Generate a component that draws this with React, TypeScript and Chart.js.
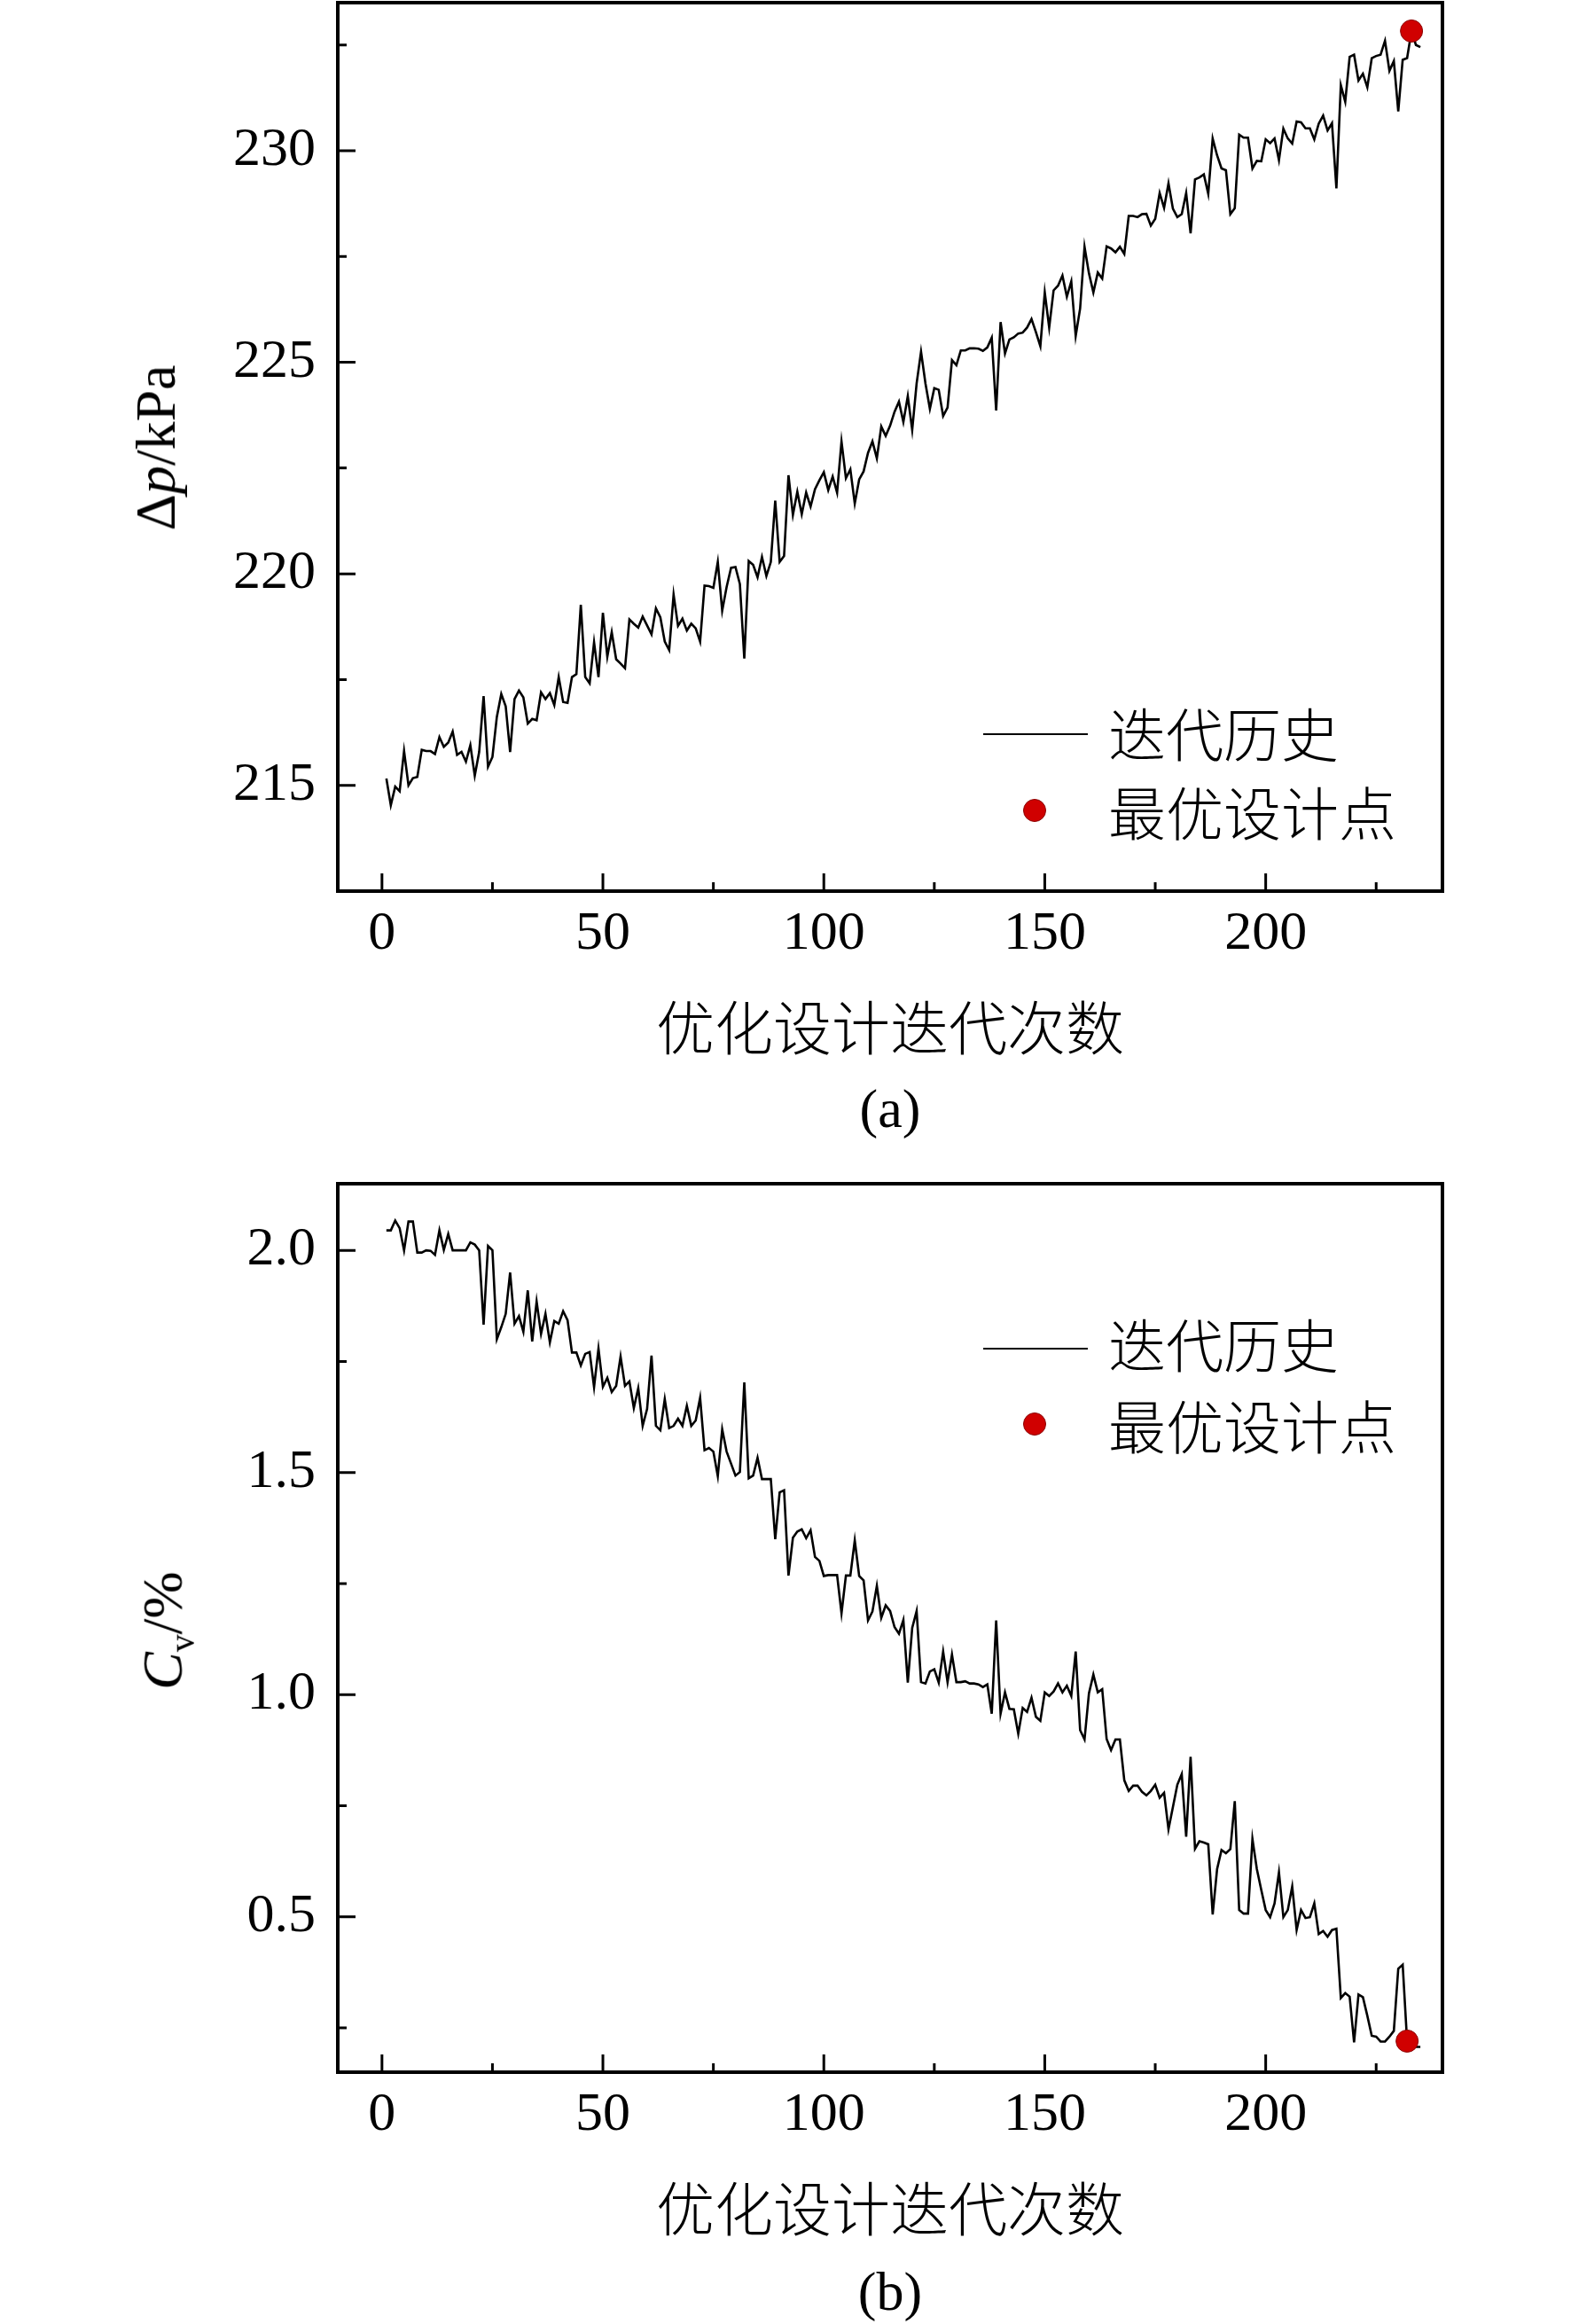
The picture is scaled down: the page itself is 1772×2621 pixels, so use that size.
import React, { useEffect, useRef } from 'react';
import { Chart, LineController, LineElement, PointElement, LinearScale } from 'chart.js';

Chart.register(LineController, LineElement, PointElement, LinearScale);

// ============================================
// DATA (one value per iteration)
// ============================================
const pressureDrop: number[] = [
  215.16, 214.53, 214.97, 214.86, 215.81, 215.0, 215.17, 215.2, 215.84, 215.81,
  215.81, 215.74, 216.14, 215.91, 216.01, 216.27, 215.72, 215.79, 215.56, 215.95,
  215.23, 215.79, 217.11, 215.44, 215.67, 216.62, 217.16, 216.87, 215.79, 217.04,
  217.24, 217.08, 216.46, 216.57, 216.54, 217.2, 217.04, 217.18, 216.9, 217.56,
  216.97, 216.95, 217.56, 217.63, 219.27, 217.56, 217.41, 218.38, 217.56, 219.08,
  218.04, 218.62, 217.98, 217.88, 217.77, 218.92, 218.82, 218.73, 218.99, 218.78,
  218.57, 219.18, 218.97, 218.4, 218.2, 219.51, 218.77, 218.94, 218.66, 218.82,
  218.71, 218.4, 219.72, 219.71, 219.67, 220.28, 219.13, 219.69, 220.14, 220.16,
  219.76, 218.0, 220.3, 220.21, 219.92, 220.4, 219.95, 220.28, 221.73, 220.28,
  220.42, 222.33, 221.39, 221.94, 221.41, 221.92, 221.59, 222.0, 222.21, 222.4,
  221.98, 222.3, 221.92, 223.13, 222.26, 222.47, 221.66, 222.23, 222.42, 222.86,
  223.13, 222.73, 223.48, 223.26, 223.5, 223.83, 224.07, 223.59, 224.2, 223.4,
  224.5, 225.25, 224.5, 223.9, 224.39, 224.35, 223.73, 223.93, 225.05, 224.93,
  225.28, 225.28, 225.33, 225.33, 225.32, 225.27, 225.35, 225.58, 223.86, 225.95,
  225.21, 225.54, 225.59, 225.68, 225.7, 225.82, 226.02, 225.71, 225.38, 226.65,
  225.82, 226.7, 226.81, 227.05, 226.55, 226.91, 225.62, 226.27, 227.73, 227.1,
  226.65, 227.12, 226.98, 227.74, 227.69, 227.6, 227.73, 227.56, 228.46, 228.46,
  228.43, 228.5, 228.51, 228.23, 228.39, 229.0, 228.65, 229.23, 228.63, 228.43,
  228.5, 229.0, 228.05, 229.32, 229.37, 229.44, 228.98, 230.29, 229.89, 229.58,
  229.54, 228.5, 228.64, 230.38, 230.31, 230.31, 229.58, 229.76, 229.75, 230.27,
  230.18, 230.29, 229.78, 230.52, 230.29, 230.17, 230.69, 230.67, 230.53, 230.53,
  230.27, 230.64, 230.83, 230.48, 230.65, 229.11, 231.55, 231.16, 232.22, 232.27,
  231.66, 231.82, 231.5, 232.19, 232.24, 232.27, 232.6, 231.89, 232.12, 230.93,
  232.15, 232.19, 232.83, 232.5, 232.45,
];

const cvHistory: number[] = [
  2.045, 2.045, 2.067, 2.05, 2.0, 2.065, 2.065, 1.995, 1.995, 2.0,
  1.999, 1.99, 2.045, 2.001, 2.037, 2.0, 2.0, 2.0, 2.0, 2.018,
  2.013, 2.0, 1.833, 2.01, 2.0, 1.8, 1.827, 1.857, 1.95, 1.835,
  1.852, 1.817, 1.91, 1.795, 1.885, 1.812, 1.857, 1.793, 1.841, 1.835,
  1.863, 1.843, 1.77, 1.77, 1.741, 1.767, 1.771, 1.692, 1.779, 1.693,
  1.713, 1.681, 1.695, 1.761, 1.695, 1.705, 1.645, 1.69, 1.605, 1.643,
  1.763, 1.605, 1.595, 1.665, 1.6, 1.605, 1.621, 1.605, 1.65, 1.605,
  1.617, 1.668, 1.55, 1.555, 1.547, 1.492, 1.597, 1.547, 1.52, 1.493,
  1.501, 1.703, 1.487, 1.493, 1.533, 1.485, 1.485, 1.485, 1.35, 1.455,
  1.46, 1.268, 1.353, 1.367, 1.372, 1.352, 1.37, 1.31, 1.301, 1.267,
  1.269, 1.269, 1.269, 1.183, 1.268, 1.268, 1.347, 1.267, 1.257, 1.167,
  1.187, 1.245, 1.173, 1.201, 1.188, 1.152, 1.137, 1.168, 1.027, 1.15,
  1.188, 1.028, 1.025, 1.052, 1.057, 1.027, 1.097, 1.028, 1.09, 1.028,
  1.028, 1.03, 1.025, 1.025, 1.023, 1.017, 1.023, 0.957, 1.167, 0.957,
  1.005, 0.968, 0.967, 0.912, 0.97, 0.961, 0.993, 0.95, 0.941, 1.005,
  0.997, 1.007, 1.025, 1.005, 1.02, 0.997, 1.097, 0.92, 0.899, 1.003,
  1.045, 1.005, 1.012, 0.9, 0.875, 0.899, 0.899, 0.807, 0.783, 0.795,
  0.795, 0.781, 0.773, 0.783, 0.797, 0.768, 0.779, 0.697, 0.747, 0.797,
  0.821, 0.68, 0.86, 0.653, 0.67, 0.667, 0.663, 0.505, 0.607, 0.65,
  0.643, 0.652, 0.76, 0.515, 0.507, 0.507, 0.675, 0.607, 0.56, 0.515,
  0.499, 0.53, 0.6, 0.499, 0.515, 0.568, 0.47, 0.515, 0.497, 0.499,
  0.53, 0.461, 0.468, 0.455, 0.47, 0.473, 0.317, 0.328, 0.32, 0.217,
  0.325, 0.319, 0.277, 0.232, 0.23, 0.219, 0.219, 0.23, 0.243, 0.383,
  0.392, 0.219, 0.21, 0.207, 0.207,
];

// iteration numbers 1..N
const iterations: number[] = pressureDrop.map((_, i) => i + 1);

const bestDp = { x: 233, y: 232.83 };
const bestCv = { x: 232, y: 0.22 };

const xMajorTicks = [0, 50, 100, 150, 200];
const xMinorTicks = [25, 75, 125, 175, 225];
const dpMajorTicks = [215, 220, 225, 230];
const dpMinorTicks = [217.5, 222.5, 227.5, 232.5];
const cvMajorTicks = [0.5, 1.0, 1.5, 2.0];
const cvMinorTicks = [0.25, 0.75, 1.25, 1.75];

const legendLabels = ['迭代历史', '最优设计点'];
const xTitle = '优化设计迭代次数';

const SERIF = '"Liberation Serif", "Times New Roman", serif';
const CJK = '"Noto Sans CJK SC", sans-serif';
const DOT_RED = '#d00000';

// ============================================
// PLUGIN: box frame + inward ticks
// ============================================
const makeFrame = (yMajor: number[], yMinor: number[]) => ({
  id: 'axisFrame',
  afterDatasetsDraw(chart: Chart) {
    const { ctx, chartArea: a, scales } = chart;
    const sx = scales.x;
    const sy = scales.y;
    ctx.save();
    ctx.strokeStyle = '#000';
    ctx.lineWidth = 3;
    ctx.beginPath();
    const xTick = (v: number, len: number) => {
      const p = sx.getPixelForValue(v);
      ctx.moveTo(p, a.bottom);
      ctx.lineTo(p, a.bottom - len);
    };
    const yTick = (v: number, len: number) => {
      const p = sy.getPixelForValue(v);
      ctx.moveTo(a.left, p);
      ctx.lineTo(a.left + len, p);
    };
    xMajorTicks.forEach((v) => xTick(v, 20));
    xMinorTicks.forEach((v) => xTick(v, 10));
    yMajor.forEach((v) => yTick(v, 20));
    yMinor.forEach((v) => yTick(v, 10));
    ctx.stroke();
    ctx.lineWidth = 4;
    ctx.strokeRect(a.left, a.top, a.right - a.left, a.bottom - a.top);
    ctx.restore();
  },
});

// ============================================
// CHART PANEL
// ============================================
interface PanelProps {
  top: number;
  values: number[];
  best: { x: number; y: number };
  yMin: number;
  yMax: number;
  major: number[];
  minor: number[];
  decimals: number;
}

const noPad = (s: any) => {
  s.paddingTop = 0;
  s.paddingBottom = 0;
  s.paddingLeft = 0;
  s.paddingRight = 0;
};

const Panel: React.FC<PanelProps> = ({ top, values, best, yMin, yMax, major, minor, decimals }) => {
  const canvasRef = useRef<HTMLCanvasElement>(null);

  useEffect(() => {
    if (!canvasRef.current) return;
    const chart = new Chart(canvasRef.current, {
      type: 'line',
      data: {
        datasets: [
          {
            data: [best],
            showLine: false,
            pointRadius: 12.5,
            pointBackgroundColor: DOT_RED,
            pointBorderColor: '#8a0000',
            pointBorderWidth: 1,
            order: 0,
          },
          {
            data: iterations.map((x, i) => ({ x, y: values[i] })),
            borderColor: '#000',
            borderWidth: 2.6,
            pointRadius: 0,
            tension: 0,
            fill: false,
            order: 1,
          },
        ],
      },
      options: {
        animation: false,
        responsive: false,
        devicePixelRatio: 1,
        layout: { autoPadding: false, padding: { left: 0, right: 145, top: 3, bottom: 0 } },
        plugins: { legend: { display: false }, tooltip: { enabled: false } },
        scales: {
          x: {
            type: 'linear',
            min: -10,
            max: 240,
            grid: { display: false, drawTicks: false },
            border: { display: false },
            ticks: {
              color: '#000',
              padding: 12,
              maxRotation: 0,
              font: { family: SERIF, size: 62 },
            },
            afterBuildTicks: (s: any) => {
              s.ticks = xMajorTicks.map((value) => ({ value }));
            },
            afterFit: (s: any) => {
              s.height = 95;
              noPad(s);
            },
          },
          y: {
            type: 'linear',
            min: yMin,
            max: yMax,
            grid: { display: false, drawTicks: false },
            border: { display: false },
            ticks: {
              color: '#000',
              padding: 25,
              font: { family: SERIF, size: 62 },
              callback: (v: any) => Number(v).toFixed(decimals),
            },
            afterBuildTicks: (s: any) => {
              s.ticks = major.map((value) => ({ value }));
            },
            afterFit: (s: any) => {
              s.width = 381;
              noPad(s);
            },
          },
        },
      },
      plugins: [makeFrame(major, minor)],
    } as any);
    return () => chart.destroy();
  }, []);

  return (
    <canvas
      ref={canvasRef}
      width={1772}
      height={1100}
      style={{ position: 'absolute', left: 0, top, width: 1772, height: 1100 }}
    />
  );
};

// ============================================
// TEXT HELPERS
// ============================================
const Centered: React.FC<{ x: number; y: number; rotate?: boolean; style?: React.CSSProperties; children: React.ReactNode }> = ({
  x, y, rotate, style, children,
}) => (
  <div
    style={{
      position: 'absolute',
      left: x,
      top: y,
      transform: `translate(-50%, -50%)${rotate ? ' rotate(-90deg)' : ''}`,
      whiteSpace: 'nowrap',
      lineHeight: 1,
      color: '#000',
      ...style,
    }}
  >
    {children}
  </div>
);

const Legend: React.FC<{ lineY: number; textY: number; dotY: number }> = ({ lineY, textY, dotY }) => (
  <>
    <div style={{ position: 'absolute', left: 1109, top: lineY - 1.3, width: 118, height: 2.6, background: '#000' }} />
    <div
      style={{
        position: 'absolute', left: 1167 - 13, top: dotY - 13, width: 26, height: 26,
        borderRadius: '50%', background: DOT_RED, boxSizing: 'border-box', border: '1px solid #8a0000',
      }}
    />
    <div style={{ position: 'absolute', left: 1250, top: textY, transform: 'translateY(-50%)', fontFamily: CJK, fontSize: 65, fontWeight: 300, lineHeight: 1 }}>
      {legendLabels[0]}
    </div>
    <div style={{ position: 'absolute', left: 1250, top: dotY, transform: 'translateY(-50%)', fontFamily: CJK, fontSize: 65, fontWeight: 300, lineHeight: 1 }}>
      {legendLabels[1]}
    </div>
  </>
);

// ============================================
// MAIN
// ============================================
const App: React.FC = () => {
  const serif: React.CSSProperties = { fontFamily: SERIF, fontSize: 62 };
  const cjk: React.CSSProperties = { fontFamily: CJK, fontSize: 66, fontWeight: 300 };

  return (
    <div style={{ position: 'absolute', left: 0, top: 0, width: 1772, height: 2621, background: '#fff', overflow: 'hidden' }}>
      {/* (a) pressure drop */}
      <Panel top={0} values={pressureDrop} best={bestDp} yMin={212.5} yMax={233.5} major={dpMajorTicks} minor={dpMinorTicks} decimals={0} />
      <Centered x={176} y={505} rotate style={{ ...serif, fontSize: 64 }}>
        Δ<i>p</i>/kPa
      </Centered>
      <Centered x={1004} y={1155} style={cjk}>{xTitle}</Centered>
      <Centered x={1004} y={1250} style={serif}>(a)</Centered>
      <Legend lineY={828} textY={825} dotY={914} />

      {/* (b) flow non-uniformity */}
      <Panel top={1332} values={cvHistory} best={bestCv} yMin={0.15} yMax={2.15} major={cvMajorTicks} minor={cvMinorTicks} decimals={1} />
      <Centered x={189} y={1839} rotate style={{ ...serif, fontSize: 64 }}>
        <i>C</i>
        <span style={{ fontSize: '0.62em', verticalAlign: '-0.35em' }}>v</span>/%
      </Centered>
      <Centered x={1004} y={2487} style={cjk}>{xTitle}</Centered>
      <Centered x={1004} y={2584} style={serif}>(b)</Centered>
      <Legend lineY={1521} textY={1514} dotY={1606} />
    </div>
  );
};

export default App;
